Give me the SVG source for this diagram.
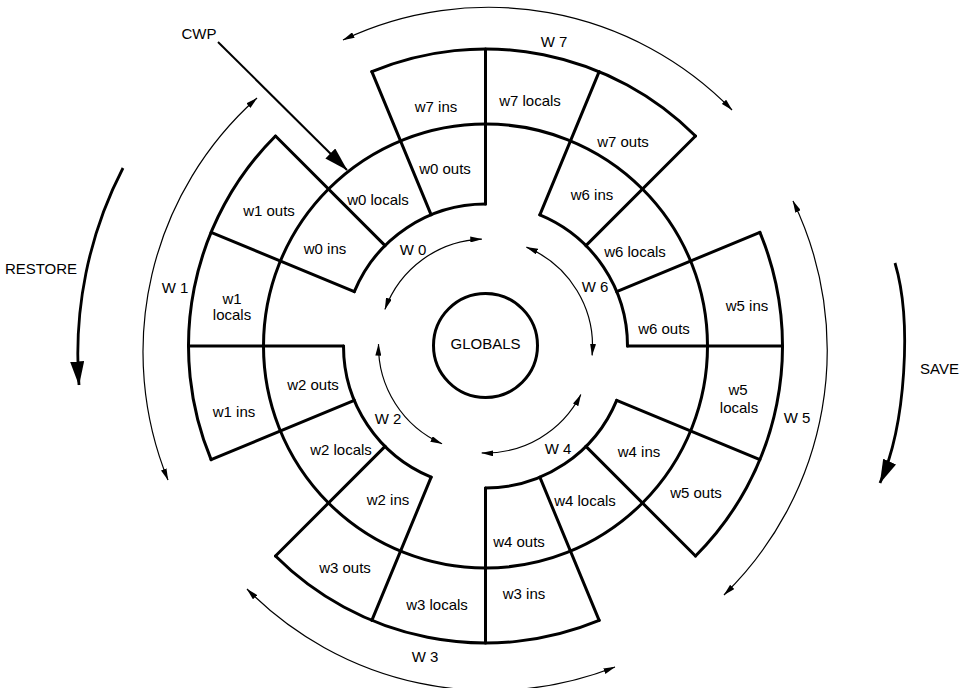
<svg xmlns="http://www.w3.org/2000/svg" width="961" height="688" viewBox="0 0 961 688">
<style>
.thick{fill:none;stroke:#000;stroke-width:3;stroke-linecap:round;stroke-linejoin:round}
.thin{fill:none;stroke:#000;stroke-width:1.2}
.bold{fill:none;stroke:#000;stroke-width:2.8}
text{font-family:"Liberation Sans",Arial,Helvetica,sans-serif;font-size:15px;fill:#000;text-anchor:middle}
</style>
<defs>
<marker id="sh" viewBox="0 0 12 6" refX="11.5" refY="3" markerWidth="12" markerHeight="6" markerUnits="userSpaceOnUse" orient="auto-start-reverse"><path d="M0,0 L12,3 L0,6 z" fill="#000"/></marker>
<marker id="bh" viewBox="0 0 24 14" refX="23.5" refY="7" markerWidth="24" markerHeight="14" markerUnits="userSpaceOnUse" orient="auto"><path d="M0,0 L24,7 L0,14 z" fill="#000"/></marker>
</defs>
<rect width="961" height="688" fill="#fff"/>

<g id="frame" class="thick">
<circle cx="485.5" cy="346" r="222"/>
<path d="M627.5,346 L782.5,346 M616.69,291.66 L759.89,232.34 M585.91,245.59 L695.51,135.99 M539.84,214.81 L599.16,71.61 M485.5,204 L485.5,49 M431.16,214.81 L371.84,71.61 M385.09,245.59 L275.49,135.99 M354.31,291.66 L211.11,232.34 M343.5,346 L188.5,346 M354.31,400.34 L211.11,459.66 M385.09,446.41 L275.49,556.01 M431.16,477.19 L371.84,620.39 M485.5,488 L485.5,643 M539.84,477.19 L599.16,620.39 M585.91,446.41 L695.51,556.01 M616.69,400.34 L759.89,459.66"/>
</g>

<g id="globals">
<circle class="thick" cx="485.5" cy="345.5" r="52"/>
<text x="485.5" y="349">GLOBALS</text>
</g>

<g id="w0">
<path class="thick" d="M485.5,204 A142,142 0 0 0 354.31,291.66"/>
<text x="445" y="174">w0 outs</text>
<text x="378" y="205">w0 locals</text>
<text x="325" y="254">w0 ins</text>
</g>
<g id="w1">
<path class="thick" d="M275.49,135.99 A297,297 0 0 0 211.11,459.66"/>
<text x="269" y="216">w1 outs</text>
<text x="232" y="304">w1</text>
<text x="232" y="320">locals</text>
<text x="234" y="417">w1 ins</text>
</g>
<g id="w2">
<path class="thick" d="M343.5,346 A142,142 0 0 0 431.16,477.19"/>
<text x="313" y="390">w2 outs</text>
<text x="341" y="455">w2 locals</text>
<text x="388" y="505">w2 ins</text>
</g>
<g id="w3">
<path class="thick" d="M275.49,556.01 A297,297 0 0 0 599.16,620.39"/>
<text x="345" y="573">w3 outs</text>
<text x="437" y="610">w3 locals</text>
<text x="524" y="599">w3 ins</text>
</g>
<g id="w4">
<path class="thick" d="M485.5,488 A142,142 0 0 0 616.69,400.34"/>
<text x="519" y="547">w4 outs</text>
<text x="585" y="506">w4 locals</text>
<text x="639" y="457">w4 ins</text>
</g>
<g id="w5">
<path class="thick" d="M695.51,556.01 A297,297 0 0 0 759.89,232.34"/>
<text x="696" y="498">w5 outs</text>
<text x="738" y="395">w5</text>
<text x="739" y="413">locals</text>
<text x="747" y="311">w5 ins</text>
</g>
<g id="w6">
<path class="thick" d="M627.5,346 A142,142 0 0 0 539.84,214.81"/>
<text x="664" y="334">w6 outs</text>
<text x="635" y="257">w6 locals</text>
<text x="592" y="200">w6 ins</text>
</g>
<g id="w7">
<path class="thick" d="M695.51,135.99 A297,297 0 0 0 371.84,71.61"/>
<text x="436" y="112">w7 ins</text>
<text x="530" y="106">w7 locals</text>
<text x="623" y="147">w7 outs</text>
</g>

<g id="connectors">
<path class="thin" marker-start="url(#sh)" marker-end="url(#sh)" d="M481.77,239.07 A107,107 0 0 0 384.95,309.4"/>
<path class="thin" marker-start="url(#sh)" marker-end="url(#sh)" d="M378.52,344.13 A107,107 0 0 0 441.98,443.75"/>
<path class="thin" marker-start="url(#sh)" marker-end="url(#sh)" d="M481.77,452.93 A107,107 0 0 0 580.84,394.58"/>
<path class="thin" marker-start="url(#sh)" marker-end="url(#sh)" d="M592.09,355.33 A107,107 0 0 0 526.45,247.15"/>
<path class="thin" marker-start="url(#sh)" marker-end="url(#sh)" d="M732,110 A340,340 0 0 0 343,40"/>
<path class="thin" marker-start="url(#sh)" marker-end="url(#sh)" d="M257,98 A340,340 0 0 0 168,480"/>
<path class="thin" marker-start="url(#sh)" marker-end="url(#sh)" d="M247,589 A342,342 0 0 0 615,667"/>
<path class="thin" marker-start="url(#sh)" marker-end="url(#sh)" d="M724,595 A342,342 0 0 0 793,201"/>
<path class="bold" marker-end="url(#bh)" d="M123,168 A405,405 0 0 0 79,385"/>
<path class="bold" marker-end="url(#bh)" d="M895,263 C912,320 906,425 880,483"/>
<path fill="none" stroke="#000" stroke-width="2" marker-end="url(#bh)" d="M218,42 L347,170"/>
</g>

<g id="labels">
<text x="413" y="255">W 0</text>
<text x="595" y="292">W 6</text>
<text x="388" y="424">W 2</text>
<text x="558" y="454">W 4</text>
<text x="554" y="47">W 7</text>
<text x="175" y="293">W 1</text>
<text x="797" y="423">W 5</text>
<text x="425" y="662">W 3</text>
<text x="41" y="274">RESTORE</text>
<text x="920" y="374" style="text-anchor:start">SAVE</text>
<text x="199" y="39">CWP</text>
</g>
</svg>
